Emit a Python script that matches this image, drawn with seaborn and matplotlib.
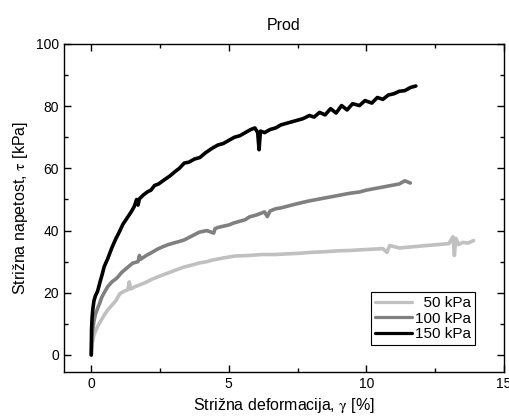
import matplotlib
matplotlib.use("Agg")
import matplotlib.pyplot as plt
from matplotlib.ticker import MultipleLocator
import seaborn as sns
import pandas as pd

# 50 kPa
x_50 = [0, 0.02, 0.05, 0.1, 0.17, 0.25, 0.35, 0.47, 0.6, 0.75, 0.9, 0.96, 1.05, 1.2, 1.33, 1.38, 1.43,
        1.6, 1.75, 1.95, 2.17, 2.5, 2.8, 3.1, 3.38, 3.7, 3.93, 4.2, 4.4, 4.8, 5.2, 5.75, 6.2, 6.7,
        7.1, 7.56, 8.0, 8.5, 9.0, 9.4, 9.75, 10.2, 10.6, 10.75, 10.85, 11.2, 11.7, 12.2, 12.6, 13.0,
        13.15, 13.2, 13.25, 13.35, 13.5, 13.7, 13.9]
y_50 = [0, 3, 4.5, 6.5, 8, 9.5, 11, 12.8, 14.5, 16, 17.5, 18.5, 19.8, 20.5, 21, 23.5, 21.2,
        22, 22.5, 23.2, 24.2, 25.4, 26.4, 27.4, 28.3, 29, 29.6, 30, 30.5, 31.2, 31.8, 32, 32.3, 32.3,
        32.5, 32.7, 33, 33.2, 33.5, 33.6, 33.8, 34, 34.2, 33, 35.2, 34.4, 34.8, 35.2, 35.5, 35.8,
        38, 32, 37.5, 35.5, 36.2, 36, 36.8]

# 100 kPa
x_100 = [0, 0.02, 0.05, 0.1, 0.15, 0.23, 0.3, 0.38, 0.47, 0.6, 0.75, 0.9, 0.96, 1.1, 1.3, 1.5, 1.7,
         1.75, 1.8, 2.0, 2.17, 2.4, 2.6, 2.8, 3.0, 3.2, 3.38, 3.6, 3.93, 4.2, 4.45, 4.5, 4.6, 4.8,
         5.0, 5.2, 5.4, 5.6, 5.75, 6.0, 6.3, 6.4, 6.5, 6.7, 6.9, 7.2, 7.56, 7.9, 8.2, 8.5, 8.8,
         9.1, 9.4, 9.75, 10.0, 10.3, 10.6, 10.9, 11.2, 11.4, 11.6]
y_100 = [0, 5, 8, 11, 13, 15, 16.5, 18.5, 20, 22, 23.5, 24.5, 25, 26.5, 28, 29.5, 30,
         32, 30.8, 32, 32.8, 34, 34.8, 35.5, 36, 36.5, 37, 38, 39.5, 40, 39.2, 40.6, 41, 41.4,
         41.8, 42.5, 43, 43.5, 44.4, 45, 46, 44.5, 46.3, 47, 47.3, 48, 48.8, 49.5, 50, 50.5, 51,
         51.5, 52, 52.4, 53, 53.5, 54, 54.5, 55, 56, 55.3]

# 150 kPa
x_150 = [0, 0.01, 0.03, 0.06, 0.1, 0.15, 0.23, 0.32, 0.4, 0.47, 0.6, 0.75, 0.9, 1.0, 1.15, 1.3,
         1.45, 1.56, 1.65, 1.7, 1.75, 1.9, 2.05, 2.17, 2.3, 2.45, 2.65, 2.85, 3.05, 3.2, 3.38,
         3.55, 3.75, 3.95, 4.15, 4.4, 4.6, 4.8, 5.0, 5.2, 5.4, 5.6, 5.8, 5.95, 6.05, 6.1, 6.15,
         6.3, 6.5, 6.7, 6.9, 7.1, 7.3, 7.5, 7.7, 7.93, 8.1, 8.3, 8.5, 8.7, 8.9, 9.1, 9.3, 9.5,
         9.75, 9.95, 10.2, 10.4, 10.6, 10.8, 11.0, 11.2, 11.4, 11.6, 11.8]
y_150 = [0, 8, 12, 15, 17.5, 19, 20.5, 23.5, 26, 28.4, 31, 34.5, 37.5, 39.2, 42, 44,
         46, 47.7, 50, 48.2, 50.2, 51.5, 52.5, 53, 54.5, 55, 56.3, 57.5, 59, 60, 61.7,
         62, 63, 63.5, 65, 66.5, 67.5, 68, 69, 70, 70.5, 71.5, 72.5, 73, 71.5, 66, 72,
         71.5, 72.5, 73, 74, 74.5, 75, 75.5, 76, 77, 76.5, 78, 77.2, 79.2, 77.8, 80.2, 78.8, 80.8,
         80.2, 81.8, 81, 82.8, 82.2, 83.6, 84, 84.8, 85, 86, 86.5]

labels = ["  50 kPa", "100 kPa", "150 kPa"]
colors = ["#c0c0c0", "#808080", "#000000"]

frames = []
for lab, xs, ys in zip(labels, [x_50, x_100, x_150], [y_50, y_100, y_150]):
    frames.append(pd.DataFrame({"x": xs, "y": ys, "load": lab}))
df = pd.concat(frames, ignore_index=True)

sns.set_style("ticks")
plt.rcParams["font.family"] = ["Liberation Sans", "DejaVu Sans"]
plt.rcParams["mathtext.fontset"] = "stix"
for k in ["text.color", "axes.labelcolor", "xtick.color", "ytick.color", "axes.edgecolor"]:
    plt.rcParams[k] = "black"

fig = plt.figure(figsize=(5.1, 4.19), dpi=100)
ax = fig.add_axes([0.125, 0.112, 0.863, 0.783])

sns.lineplot(data=df, x="x", y="y", hue="load", palette=colors, sort=False,
             estimator=None, linewidth=2.6, ax=ax)

ax.set_xlim(-1, 15)
ax.set_ylim(-5.5, 100)
ax.xaxis.set_major_locator(MultipleLocator(5))
ax.xaxis.set_minor_locator(MultipleLocator(2.5))
ax.yaxis.set_major_locator(MultipleLocator(20))
ax.yaxis.set_minor_locator(MultipleLocator(10))
ax.tick_params(which="both", direction="in", top=True, right=True, labelsize=10, width=1)
ax.tick_params(which="major", length=5)
ax.tick_params(which="minor", length=3)
for s in ax.spines.values():
    s.set_linewidth(1)

ax.set_title("Prod", fontsize=11.5, pad=10)
ax.set_xlabel(r"Strižna deformacija, $\mathrm{\gamma}$ [%]", fontsize=11.5)
ax.set_ylabel(r"Strižna napetost, $\mathrm{\tau}$ [kPa]", fontsize=11.5)

leg = ax.legend(loc="lower right", bbox_to_anchor=(0.934, 0.082), borderaxespad=0,
                fontsize=11, fancybox=False, framealpha=1, edgecolor="black",
                handlelength=2.4, handletextpad=0.2, borderpad=0.25, labelspacing=0.1)
leg.get_frame().set_linewidth(0.8)
for line in leg.get_lines():
    line.set_linewidth(2.3)

fig.savefig("out.png", dpi=100)
